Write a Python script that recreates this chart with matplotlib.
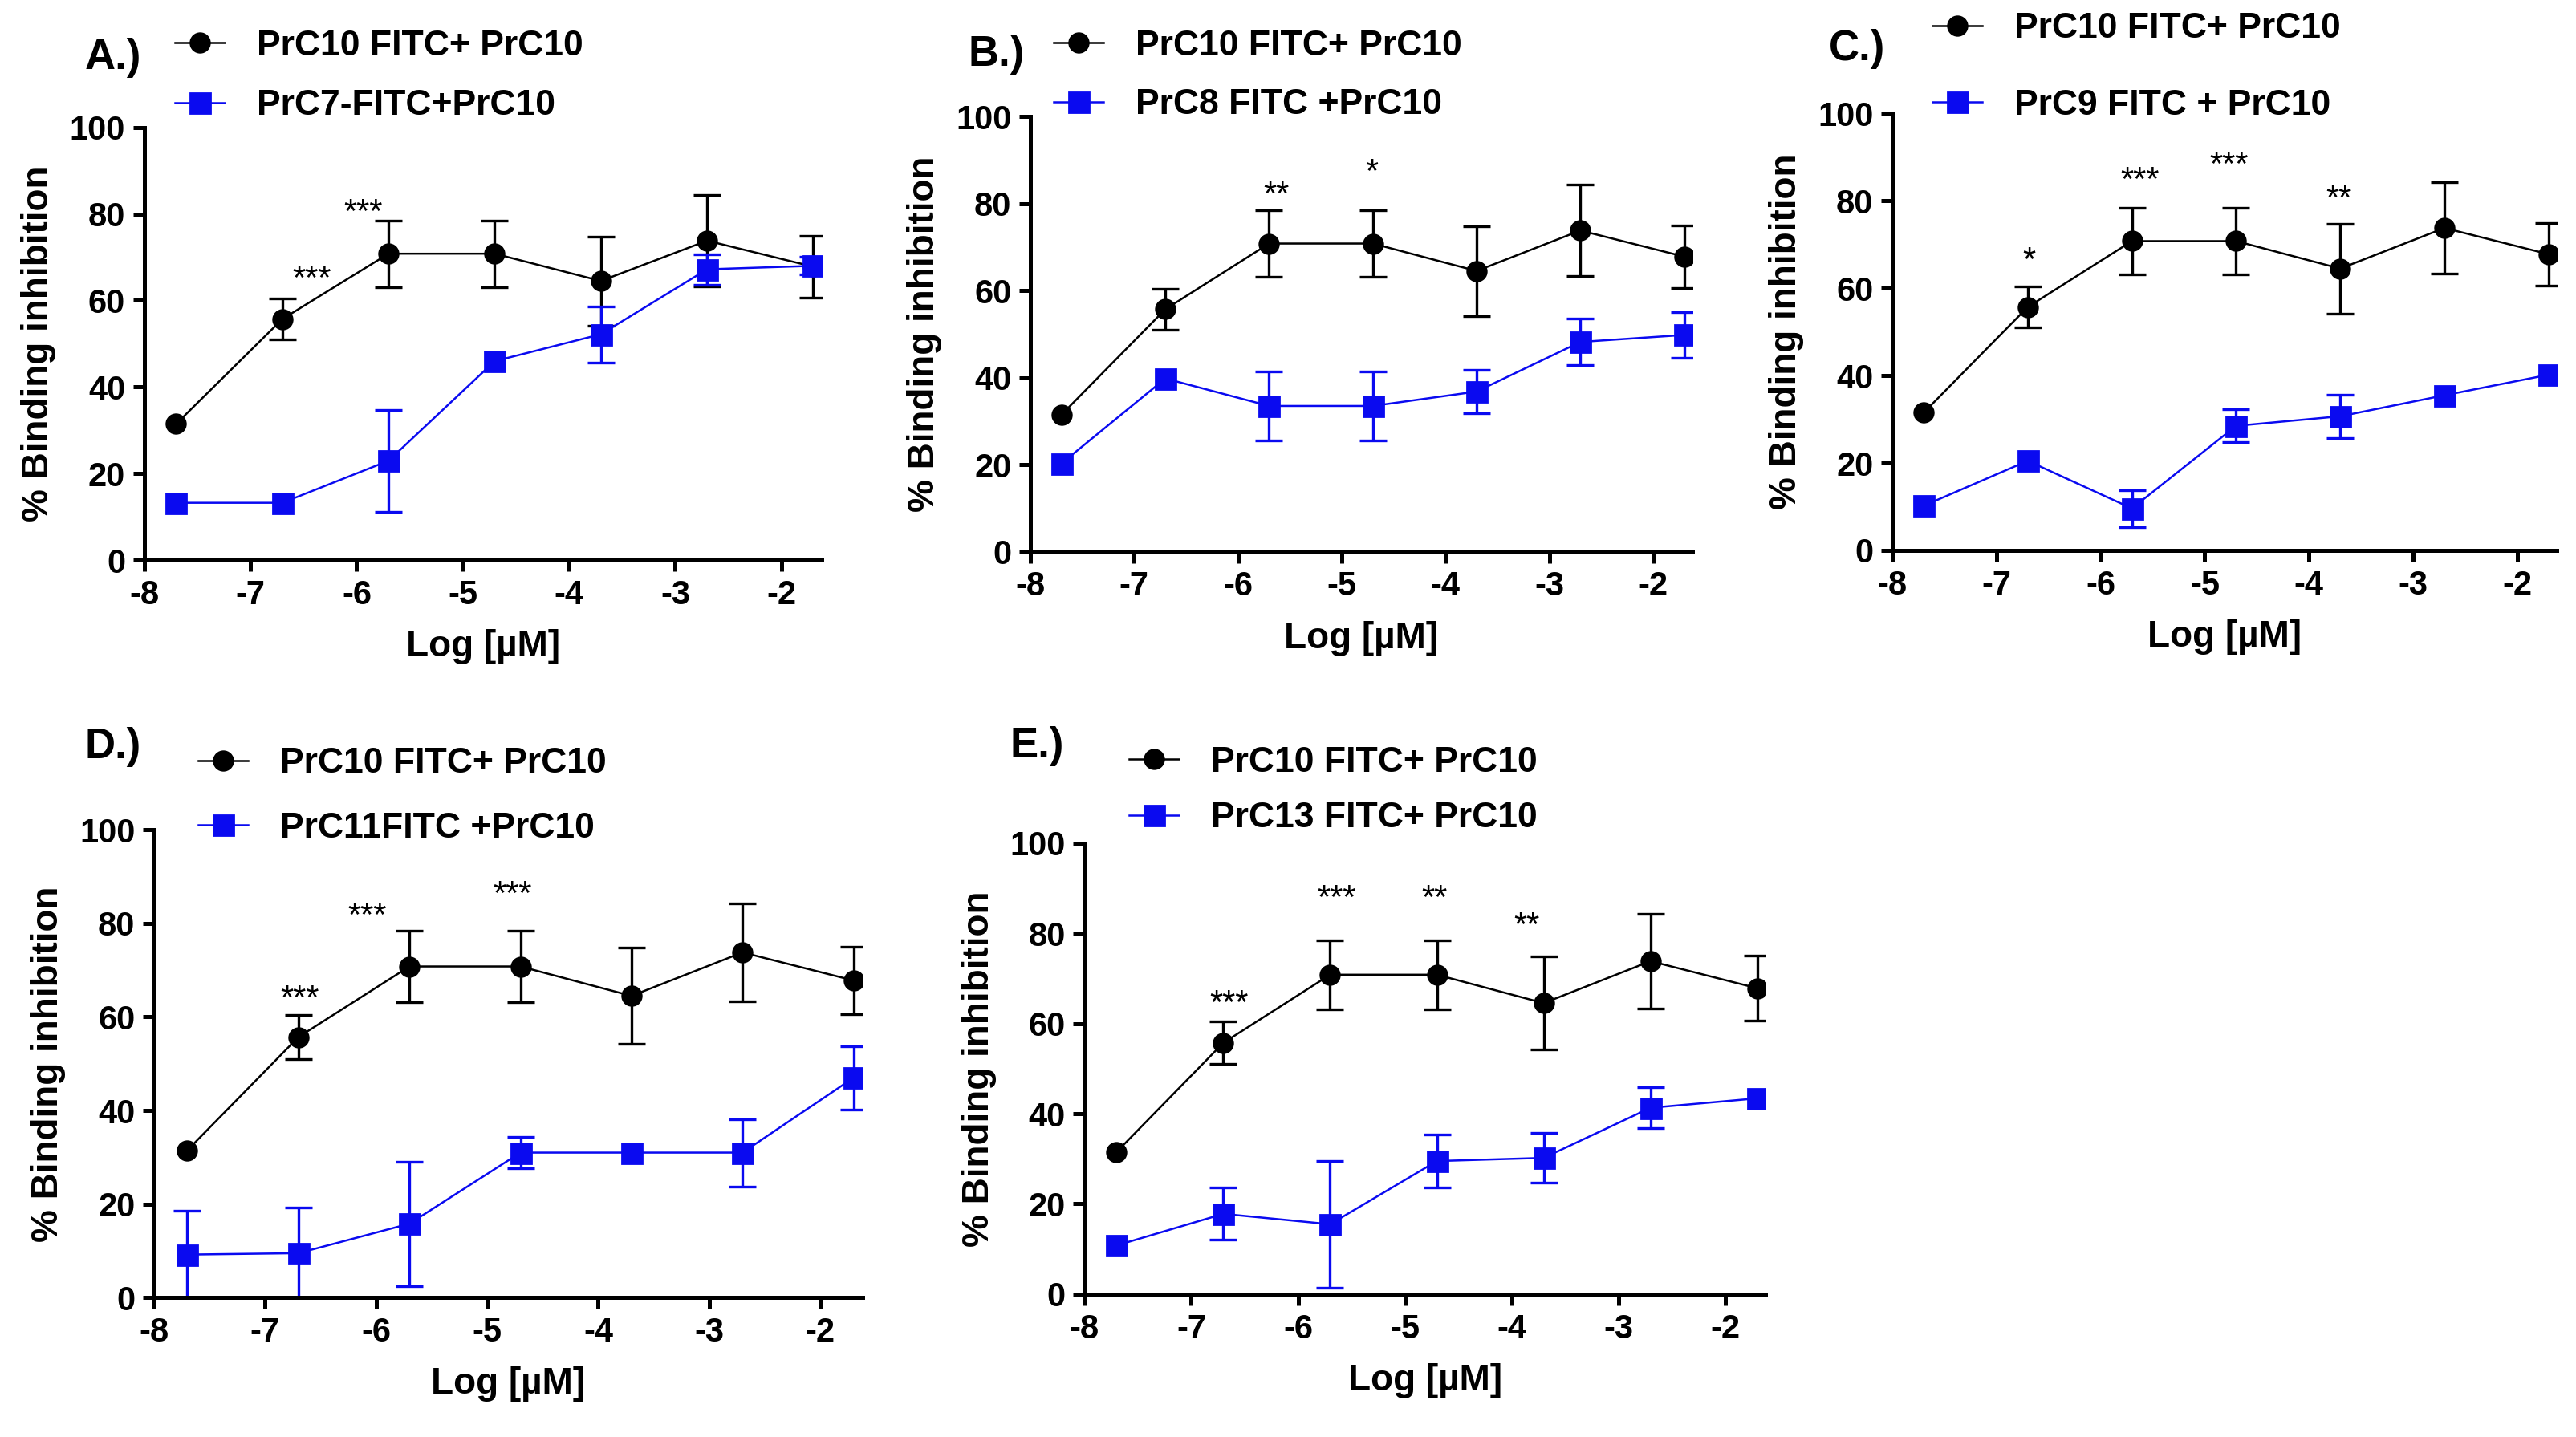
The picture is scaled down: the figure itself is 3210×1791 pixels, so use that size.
"""
Binding inhibition of PrC10-FITC by PrC10, compared with other FITC conjugates
"""
import matplotlib
matplotlib.use('Agg')
import matplotlib.pyplot as plt

plt.rcParams['font.family'] = ['Liberation Sans', 'DejaVu Sans']
plt.rcParams['font.weight'] = 'bold'
plt.rcParams['axes.unicode_minus'] = False

# log concentration, shared by all panels
log_conc = [-7.7, -6.7, -5.7, -4.7, -3.7, -2.7, -1.7]

# reference series (same in every panel)
ref_label = 'PrC10 FITC+ PrC10'
ref_mean = [31.5, 55.7, 70.8, 70.8, 64.5, 73.8, 67.8]
ref_sem = [0.0, 4.7, 7.7, 7.7, 10.3, 10.5, 7.2]

panel_names = ['A.)', 'B.)', 'C.)', 'D.)', 'E.)']
cmp_labels = ['PrC7-FITC+PrC10', 'PrC8 FITC +PrC10', 'PrC9 FITC + PrC10',
              'PrC11FITC +PrC10', 'PrC13 FITC+ PrC10']

cmp_a = [13.3, 13.3, 23.0, 46.0, 52.2, 67.2, 68.0]
cmp_a_err = [0.0, 0.0, 11.8, 0.0, 6.5, 3.5, 2.0]
cmp_b = [20.3, 39.8, 33.5, 33.5, 36.8, 48.2, 49.8]
cmp_b_err = [0.0, 0.0, 8.0, 8.0, 5.0, 5.3, 5.3]
cmp_c = [10.2, 20.5, 9.6, 28.5, 30.7, 35.5, 40.2]
cmp_c_err = [0.0, 0.0, 4.2, 3.8, 5.0, 0.0, 0.0]
cmp_d = [9.2, 9.5, 15.8, 31.0, 31.0, 31.0, 47.0]
cmp_d_err = [9.4, 9.7, 13.3, 3.3, 0.0, 7.2, 6.8]
cmp_e = [10.8, 17.8, 15.5, 29.5, 30.2, 41.3, 43.4]
cmp_e_err = [0.0, 5.8, 14.0, 5.9, 5.5, 4.5, 0.0]

cmp_means = [cmp_a, cmp_b, cmp_c, cmp_d, cmp_e]
cmp_errs = [cmp_a_err, cmp_b_err, cmp_c_err, cmp_d_err, cmp_e_err]

# significance marks: (x, y, text)
stars = [
    [(-6.42, 64.7, '***'), (-5.94, 80.1, '***')],
    [(-5.63, 81.7, '**'), (-4.71, 87.0, '*')],
    [(-6.69, 66.2, '*'), (-5.62, 84.4, '***'), (-4.77, 87.9, '***'), (-3.71, 80.3, '**')],
    [(-6.69, 63.7, '***'), (-6.08, 81.3, '***'), (-4.77, 86.0, '***')],
    [(-6.65, 64.2, '***'), (-5.64, 87.4, '***'), (-4.72, 87.4, '**'), (-3.86, 81.4, '**')],
]

# axes rectangles [left, bottom, width, height] in figure fraction
rects = [
    [0.056, 0.610, 0.263, 0.3015],
    [0.400, 0.616, 0.257, 0.303],
    [0.7346, 0.617, 0.258, 0.304],
    [0.0598, 0.097, 0.275, 0.3255],
    [0.421, 0.0994, 0.2645, 0.314],
]
legend_anchor = [(0.045, 1.225), (0.035, 1.20), (0.06, 1.232), (0.062, 1.177), (0.065, 1.215)]
legend_space = [0.75, 0.74, 1.23, 0.89, 0.64]
label_pos = [(0.033, 0.96), (0.376, 0.962), (0.710, 0.966), (0.033, 0.48), (0.392, 0.481)]

blue = '#0a0af0'


def draw_series(ax, y, err, color, marker, ms, label):
    ax.plot(log_conc, y, color=color, lw=0.9, marker=marker, ms=ms,
            label=label, zorder=3)
    # only points with a visible spread get error bars
    ex = [x for x, e in zip(log_conc, err) if e > 0]
    ey = [v for v, e in zip(y, err) if e > 0]
    ee = [e for e in err if e > 0]
    ax.errorbar(ex, ey, yerr=ee, fmt='none', ecolor=color, elinewidth=1.2,
                capsize=6, capthick=1.2, zorder=2)


fig = plt.figure(figsize=(16.05, 8.955), dpi=200)

for i in range(5):
    ax = fig.add_axes(rects[i])
    draw_series(ax, ref_mean, ref_sem, 'black', 'o', 8.5, ref_label)
    draw_series(ax, cmp_means[i], cmp_errs[i], blue, 's', 9, cmp_labels[i])
    for sx, sy, st in stars[i]:
        ax.text(sx, sy, st, ha='center', va='center', fontsize=15,
                fontweight='normal')

    ax.set_xlim(-8, -1.62)
    ax.set_ylim(0, 100)
    ax.set_xticks([-8, -7, -6, -5, -4, -3, -2])
    ax.set_yticks([0, 20, 40, 60, 80, 100])
    ax.spines['top'].set_visible(False)
    ax.spines['right'].set_visible(False)
    ax.spines['left'].set_linewidth(1.8)
    ax.spines['bottom'].set_linewidth(1.8)
    ax.tick_params(width=1.8, length=5, labelsize=15)
    ax.set_xlabel('Log [µM]', fontsize=16.5, fontweight='bold', labelpad=8)
    ax.set_ylabel('% Binding inhibition', fontsize=16.5, fontweight='bold',
                  labelpad=6)

    ax.legend(loc='upper left', bbox_to_anchor=legend_anchor[i], frameon=False,
              fontsize=16, borderpad=0, borderaxespad=0, handlelength=1.4,
              handletextpad=0.9, labelspacing=legend_space[i])

    fig.text(label_pos[i][0], label_pos[i][1], panel_names[i], fontsize=19,
             fontweight='bold', ha='left', va='center')

fig.savefig('out.png', dpi=200)
